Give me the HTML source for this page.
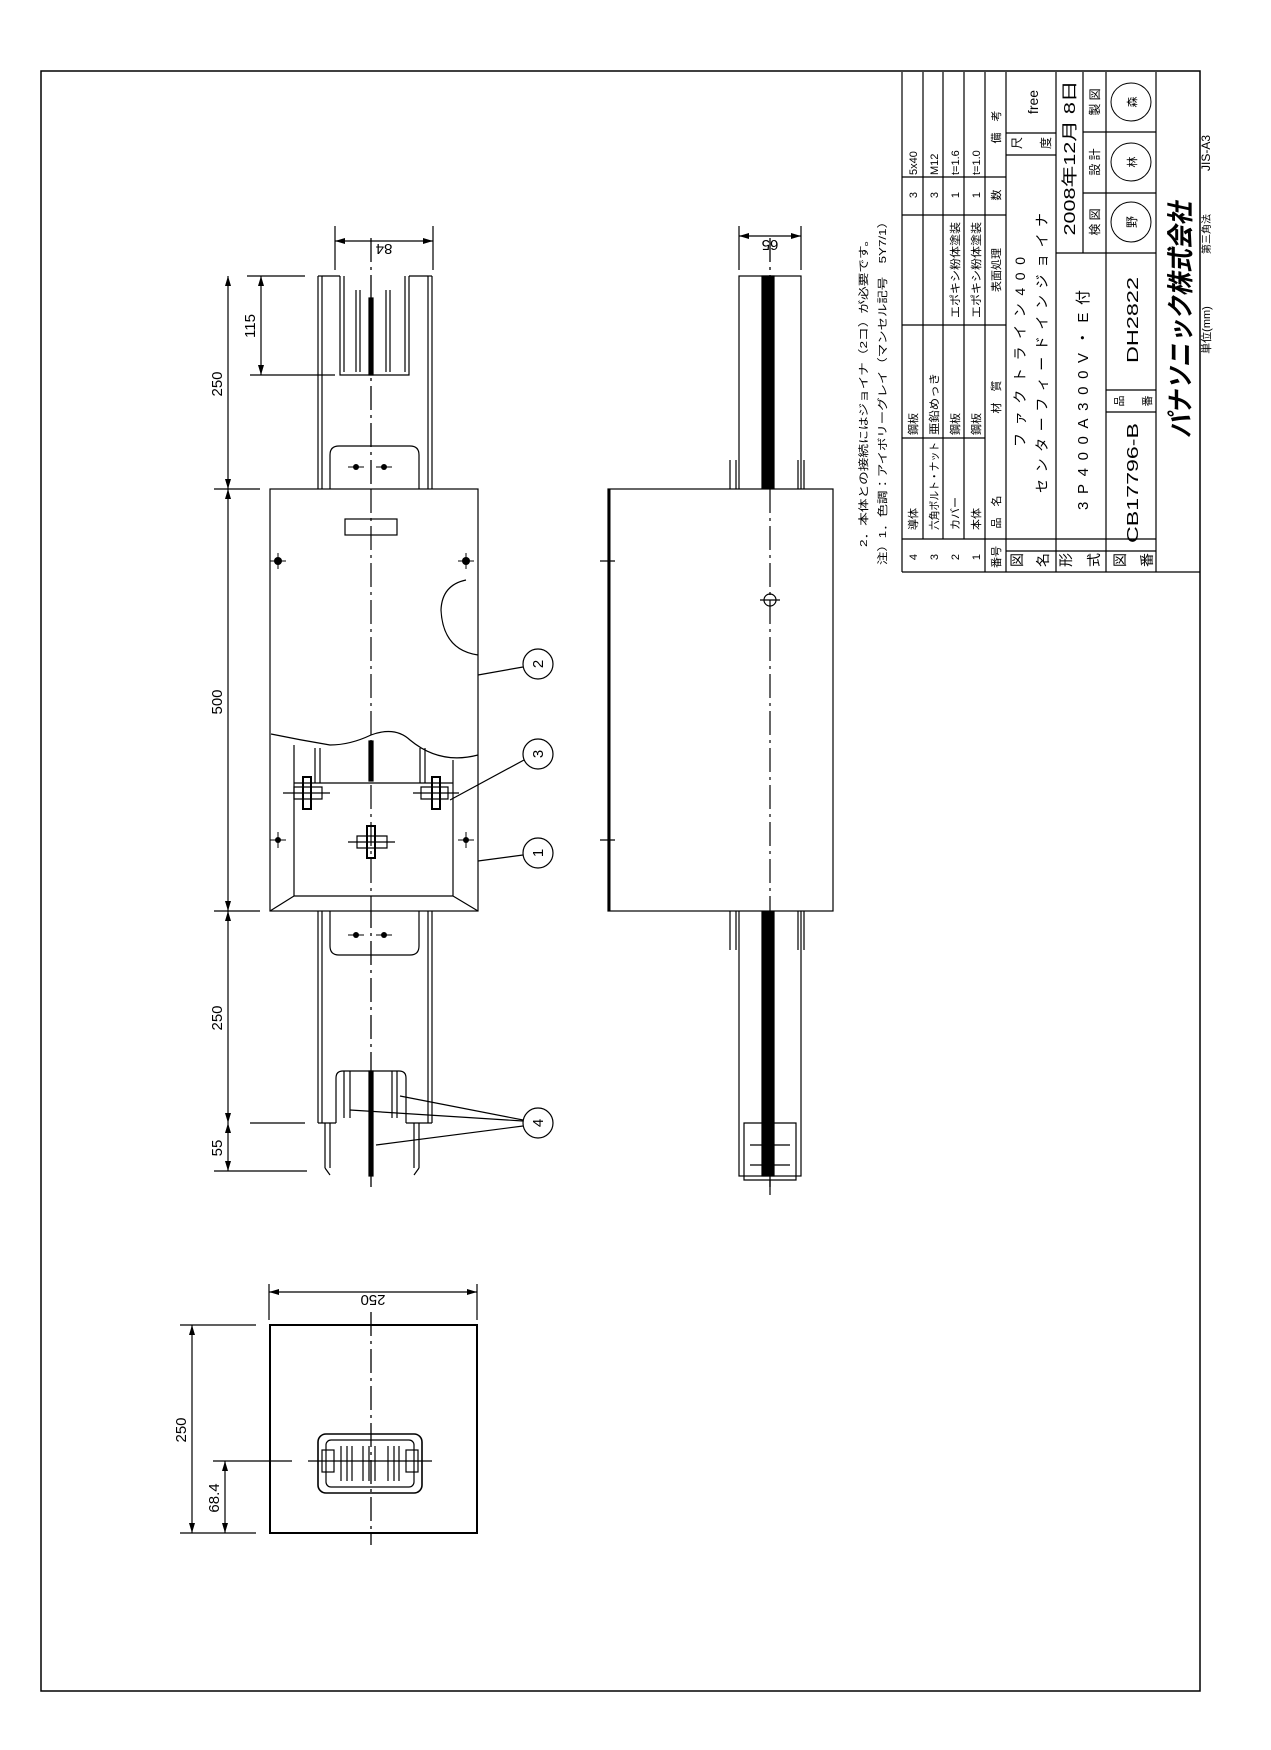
<!DOCTYPE html>
<html><head><meta charset="utf-8"><style>
html,body{margin:0;padding:0;background:#fff}
svg{display:block}
text{font-family:"Liberation Sans","Noto Sans CJK JP",sans-serif;fill:#000}
</style></head><body>
<svg width="1271" height="1750" viewBox="0 0 1271 1750" xmlns="http://www.w3.org/2000/svg">
<g fill="none" stroke="#000" stroke-width="1.2">
<rect x="41" y="71" width="1159" height="1620" stroke-width="1.5"/>

<line x1="902" y1="72" x2="902" y2="572"/>
<line x1="923" y1="72" x2="923" y2="539"/>
<line x1="943" y1="72" x2="943" y2="539"/>
<line x1="964" y1="72" x2="964" y2="539"/>
<line x1="985" y1="72" x2="985" y2="572"/>
<line x1="1006" y1="72" x2="1006" y2="572"/>
<line x1="1056" y1="72" x2="1056" y2="572"/>
<line x1="1106" y1="72" x2="1106" y2="572"/>
<line x1="1156" y1="72" x2="1156" y2="572"/>
<line x1="902" y1="572" x2="1200" y2="572"/>
<line x1="902" y1="177" x2="1006" y2="177"/>
<line x1="902" y1="215" x2="1006" y2="215"/>
<line x1="902" y1="325" x2="1006" y2="325"/>
<line x1="902" y1="438" x2="985" y2="438"/>
<line x1="902" y1="539" x2="1156" y2="539"/>
<line x1="1006" y1="551" x2="1156" y2="551"/>
<line x1="1006" y1="133" x2="1056" y2="133"/>
<line x1="1006" y1="155" x2="1056" y2="155"/>
<line x1="1056" y1="253" x2="1156" y2="253"/>
<line x1="1083" y1="72" x2="1083" y2="253"/>
<line x1="1083" y1="132" x2="1156" y2="132"/>
<line x1="1083" y1="193" x2="1156" y2="193"/>
<line x1="1106" y1="390" x2="1156" y2="390"/>
<line x1="1106" y1="412" x2="1156" y2="412"/>

<g stroke-dasharray="24,5,3,5" stroke-width="1.3">
<line x1="371" y1="238" x2="371" y2="1190"/>
<line x1="770" y1="238" x2="770" y2="1190"/>
<line x1="371" y1="1312" x2="371" y2="1545"/>
</g>

<!-- TOP VIEW channel -->
<line x1="318" y1="276" x2="318" y2="1123"/>
<line x1="322" y1="276" x2="322" y2="1123"/>
<line x1="428" y1="276" x2="428" y2="1123"/>
<line x1="432" y1="276" x2="432" y2="1123"/>
<line x1="318" y1="276" x2="322" y2="276"/>
<line x1="428" y1="276" x2="432" y2="276"/>
<line x1="318" y1="1123" x2="336" y2="1123"/>
<line x1="406" y1="1123" x2="432" y2="1123"/>
<path d="M340 276 V375 H409 V276 M344 276 V372 M405 276 V372 M322 276 H340 M409 276 H428"/>
<path d="M356 290 V372 M360 290 V372 M386 290 V372 M390 290 V372"/>
<rect x="369" y="298" width="4" height="77" fill="#000"/>
<line x1="247" y1="276" x2="305" y2="276"/>
<line x1="250" y1="375" x2="335" y2="375"/>
<path d="M330 489 V455 Q330 446 339 446 H410 Q419 446 419 455 V489"/>
<path d="M330 911 V946 Q330 955 339 955 H410 Q419 955 419 946 V911"/>
<rect x="270" y="489" width="208" height="422" fill="#fff"/>
<line x1="371" y1="489" x2="371" y2="911" stroke-dasharray="24,5,3,5"/>
<rect x="345" y="519" width="52" height="16"/>
<path d="M466 580 Q442 585 441 610 Q443 650 478 655"/>
<path d="M271 734 Q300 740 330 745 Q350 745 371 735 Q395 726 410 740 Q440 765 478 755"/>
<path d="M294 745 V896 M453 760 V896 M294 783 H453 M294 896 H453 M270 911 L294 896 M478 911 L453 896"/>
<path d="M315 748 V783 M320 748 V783 M420 748 V783 M425 748 V783"/>
<rect x="369" y="741" width="4" height="40" fill="#000"/>
<rect x="303" y="777" width="8" height="32" stroke-width="2"/>
<path d="M283 793 H330 M294 787 H322 V799 H294 Z"/>
<rect x="432" y="777" width="8" height="32" stroke-width="2"/>
<path d="M413 793 H459 M421 787 H448 V799 H421 Z"/>
<rect x="367" y="826" width="8" height="32" stroke-width="2"/>
<path d="M348 842 H395 M357 836 H387 V848 H357 Z"/>
<circle cx="538" cy="664" r="15"/><circle cx="538" cy="754" r="15"/><circle cx="538" cy="853" r="15"/><circle cx="538" cy="1123" r="15"/>
<line x1="523" y1="667" x2="478" y2="675"/>
<line x1="524" y1="760" x2="450" y2="800"/>
<line x1="523" y1="855" x2="478" y2="861"/>
<line x1="523" y1="1120" x2="400" y2="1096"/>
<line x1="523" y1="1121" x2="350" y2="1110"/>
<line x1="523" y1="1126" x2="376" y2="1145"/>
<!-- bottom slot -->
<path d="M336 1123 V1078 Q336 1071 343 1071 H399 Q406 1071 406 1078 V1123 M344 1071 V1118 M350 1071 V1118 M397 1071 V1118 M392 1071 V1118"/>
<rect x="369" y="1071" width="4" height="105" fill="#000"/>
<path d="M325 1123 V1168 M330 1123 V1168 M414 1123 V1168 M419 1123 V1168"/>
<path d="M325 1168 L330 1175 M419 1168 L414 1175"/>
<line x1="250" y1="1123" x2="305" y2="1123"/>
<line x1="214" y1="1171" x2="307" y2="1171"/>
<line x1="214" y1="489" x2="260" y2="489"/>
<line x1="214" y1="911" x2="260" y2="911"/>

<line x1="228" y1="276" x2="228" y2="1171"/>
<line x1="261" y1="276" x2="261" y2="375"/>
<line x1="335" y1="226" x2="335" y2="270"/>
<line x1="433" y1="226" x2="433" y2="270"/>
<line x1="335" y1="241" x2="433" y2="241"/>

<!-- SIDE VIEW -->
<rect x="739" y="276" width="62" height="900"/>
<rect x="762" y="276" width="12" height="900" fill="#000"/>
<path d="M730 460 V489 M736 460 V489 M804 460 V489 M798 460 V489"/>
<rect x="608" y="489" width="225" height="422" fill="#fff"/>
<line x1="609" y1="489" x2="609" y2="911" stroke-width="3"/>
<line x1="770" y1="489" x2="770" y2="911" stroke-dasharray="24,5,3,5"/>
<circle cx="770" cy="600" r="6"/><line x1="760" y1="600" x2="780" y2="600"/>
<path d="M600 561 H615 M600 840 H615"/>
<path d="M730 911 V950 M736 911 V950 M798 911 V950 M804 911 V950"/>
<path d="M744 1123 H796 V1180 H744 Z"/>
<path d="M750 1145 H790 M750 1165 H790 M770 1180 V1195"/>
<line x1="739" y1="226" x2="739" y2="270"/>
<line x1="801" y1="226" x2="801" y2="270"/>
<line x1="739" y1="236" x2="801" y2="236"/>

<!-- END VIEW -->
<line x1="269" y1="1284" x2="269" y2="1320"/>
<line x1="477" y1="1284" x2="477" y2="1320"/>
<line x1="269" y1="1292" x2="477" y2="1292"/>
<rect x="270" y="1325" width="207" height="208" stroke-width="2"/>
<line x1="180" y1="1325" x2="256" y2="1325"/>
<line x1="180" y1="1533" x2="256" y2="1533"/>
<line x1="192" y1="1325" x2="192" y2="1533"/>
<line x1="213" y1="1461" x2="292" y2="1461"/>
<line x1="225" y1="1461" x2="225" y2="1533"/>
<rect x="318" y="1434" width="104" height="59" rx="8" stroke-width="1.6"/>
<rect x="326" y="1440" width="88" height="47" rx="5"/>
<path d="M341 1446 V1481 M347 1446 V1481 M352 1446 V1481 M363 1446 V1481 M369 1446 V1481 M375 1446 V1481 M388 1446 V1481 M394 1446 V1481 M399 1446 V1481"/>
<path d="M308 1461 H432"/>
<rect x="322" y="1450" width="12" height="22"/><rect x="406" y="1450" width="12" height="22"/>
</g>

<g fill="#000">
<path d="M228 276 l-3 10 h6z M228 489 l-3 -10 h6z M228 489 l-3 10 h6z M228 911 l-3 -10 h6z M228 911 l-3 10 h6z M228 1123 l-3 -10 h6z M228 1123 l-3 10 h6z M228 1171 l-3 -10 h6z"/>
<path d="M261 276 l-3 10 h6z M261 375 l-3 -10 h6z"/>
<path d="M335 241 l10 -3 v6z M433 241 l-10 -3 v6z M739 236 l10 -3 v6z M801 236 l-10 -3 v6z"/>
<path d="M269 1292 l10 -3 v6z M477 1292 l-10 -3 v6z"/>
<path d="M192 1325 l-3 10 h6z M192 1533 l-3 -10 h6z M225 1461 l-3 10 h6z M225 1533 l-3 -10 h6z"/>
<circle cx="278" cy="561" r="4"/><circle cx="466" cy="561" r="4"/><circle cx="278" cy="840" r="3"/><circle cx="466" cy="840" r="3"/>
<circle cx="356" cy="467" r="3"/><circle cx="384" cy="467" r="3"/><circle cx="356" cy="935" r="3"/><circle cx="384" cy="935" r="3"/>
</g>
<g stroke="#000" stroke-width="1">
<path d="M270 561 h16 M278 553 v16 M458 561 h16 M466 553 v16 M270 840 h16 M278 832 v16 M458 840 h16 M466 832 v16 M348 467 h16 M376 467 h16 M348 935 h16 M376 935 h16"/>
</g>

<g font-size="15">
<text transform="translate(222,384) rotate(-90)" text-anchor="middle">250</text>
<text transform="translate(222,702) rotate(-90)" text-anchor="middle">500</text>
<text transform="translate(222,1018) rotate(-90)" text-anchor="middle">250</text>
<text transform="translate(222,1148) rotate(-90)" text-anchor="middle">55</text>
<text transform="translate(255,326) rotate(-90)" text-anchor="middle">115</text>
<text transform="translate(384,244) rotate(180)" text-anchor="middle">84</text>
<text transform="translate(770,240) rotate(180)" text-anchor="middle">65</text>
<text transform="translate(373,1295) rotate(180)" text-anchor="middle">250</text>
<text transform="translate(186,1430) rotate(-90)" text-anchor="middle">250</text>
<text transform="translate(219,1498) rotate(-90)" text-anchor="middle">68.4</text>
<text transform="translate(543,664) rotate(-90)" text-anchor="middle">2</text>
<text transform="translate(543,754) rotate(-90)" text-anchor="middle">3</text>
<text transform="translate(543,853) rotate(-90)" text-anchor="middle">1</text>
<text transform="translate(543,1123) rotate(-90)" text-anchor="middle">4</text>
</g>

<g font-size="10.5">
<text transform="translate(867,547) rotate(-90)" textLength="314" lengthAdjust="spacingAndGlyphs">2．本体との接続にはジョイナ（2コ）が必要です。</text>
<text transform="translate(886,565) rotate(-90)" textLength="350" lengthAdjust="spacingAndGlyphs">注）1．色調：アイボリーグレイ（マンセル記号　5Y7/1）</text>
<g font-size="11">
<text transform="translate(917,557) rotate(-90)" text-anchor="middle">4</text>
<text transform="translate(917,530) rotate(-90)">導体</text>
<text transform="translate(917,435) rotate(-90)">鋼板</text>
<text transform="translate(917,195) rotate(-90)" text-anchor="middle">3</text>
<text transform="translate(917,175) rotate(-90)">5x40</text>
<text transform="translate(938,557) rotate(-90)" text-anchor="middle">3</text>
<text transform="translate(938,530) rotate(-90)" textLength="88" lengthAdjust="spacingAndGlyphs">六角ボルト・ナット</text>
<text transform="translate(938,435) rotate(-90)" textLength="62" lengthAdjust="spacingAndGlyphs">亜鉛めっき</text>
<text transform="translate(938,195) rotate(-90)" text-anchor="middle">3</text>
<text transform="translate(938,175) rotate(-90)">M12</text>
<text transform="translate(959,557) rotate(-90)" text-anchor="middle">2</text>
<text transform="translate(959,530) rotate(-90)">カバー</text>
<text transform="translate(959,435) rotate(-90)">鋼板</text>
<text transform="translate(959,270) rotate(-90)" text-anchor="middle" textLength="96" lengthAdjust="spacingAndGlyphs">エポキシ粉体塗装</text>
<text transform="translate(959,195) rotate(-90)" text-anchor="middle">1</text>
<text transform="translate(959,175) rotate(-90)">t=1.6</text>
<text transform="translate(980,557) rotate(-90)" text-anchor="middle">1</text>
<text transform="translate(980,530) rotate(-90)">本体</text>
<text transform="translate(980,435) rotate(-90)">鋼板</text>
<text transform="translate(980,270) rotate(-90)" text-anchor="middle" textLength="96" lengthAdjust="spacingAndGlyphs">エポキシ粉体塗装</text>
<text transform="translate(980,195) rotate(-90)" text-anchor="middle">1</text>
<text transform="translate(980,175) rotate(-90)">t=1.0</text>
<text transform="translate(1000,557) rotate(-90)" text-anchor="middle">番号</text>
<text transform="translate(1000,512) rotate(-90)" text-anchor="middle">品　名</text>
<text transform="translate(1000,397) rotate(-90)" text-anchor="middle">材　質</text>
<text transform="translate(1000,270) rotate(-90)" text-anchor="middle">表面処理</text>
<text transform="translate(1000,195) rotate(-90)" text-anchor="middle">数</text>
<text transform="translate(1000,127) rotate(-90)" text-anchor="middle">備　考</text>
</g>
<g font-size="14">
<text transform="translate(1022,560) rotate(-90)" text-anchor="middle">図</text>
<text transform="translate(1048,560) rotate(-90)" text-anchor="middle">名</text>
<text transform="translate(1071,560) rotate(-90)" text-anchor="middle">形</text>
<text transform="translate(1099,560) rotate(-90)" text-anchor="middle">式</text>
<text transform="translate(1125,560) rotate(-90)" text-anchor="middle">図</text>
<text transform="translate(1152,560) rotate(-90)" text-anchor="middle">番</text>
<text transform="translate(1025,352) rotate(-90)" text-anchor="middle" textLength="190" lengthAdjust="spacing">ファクトライン400</text>
<text transform="translate(1047,353) rotate(-90)" text-anchor="middle" textLength="280" lengthAdjust="spacing">センターフィードインジョイナ</text>
<text transform="translate(1088,400) rotate(-90)" text-anchor="middle" textLength="220" lengthAdjust="spacing" font-size="15">3P400A300V・E付</text>
<text transform="translate(1138,483) rotate(-90)" text-anchor="middle" textLength="120" lengthAdjust="spacingAndGlyphs" font-size="16">CB17796-B</text>
<text transform="translate(1138,320) rotate(-90)" text-anchor="middle" textLength="86" lengthAdjust="spacingAndGlyphs" font-size="16">DH2822</text>
<text transform="translate(1123,401) rotate(-90)" text-anchor="middle" font-size="11">品</text>
<text transform="translate(1151,401) rotate(-90)" text-anchor="middle" font-size="11">番</text>
<text transform="translate(1038,102) rotate(-90)" text-anchor="middle">free</text>
<text transform="translate(1021,143) rotate(-90)" text-anchor="middle" font-size="12">尺</text>
<text transform="translate(1050,143) rotate(-90)" text-anchor="middle" font-size="12">度</text>
<text transform="translate(1075,158) rotate(-90)" text-anchor="middle" textLength="155" lengthAdjust="spacingAndGlyphs" font-size="16">2008年12月 8日</text>
<text transform="translate(1099,222) rotate(-90)" text-anchor="middle" font-size="12">検 図</text>
<text transform="translate(1099,162) rotate(-90)" text-anchor="middle" font-size="12">設 計</text>
<text transform="translate(1099,102) rotate(-90)" text-anchor="middle" font-size="12">製 図</text>
</g>
<g fill="none" stroke="#000" stroke-width="1">
<ellipse cx="1131" cy="222" rx="20" ry="20"/>
<ellipse cx="1131" cy="162" rx="20" ry="19"/>
<ellipse cx="1131" cy="102" rx="20" ry="19"/>
</g>
<text transform="translate(1136,222) rotate(-90)" text-anchor="middle" font-size="12">野</text>
<text transform="translate(1136,162) rotate(-90)" text-anchor="middle" font-size="11">林</text>
<text transform="translate(1136,102) rotate(-90)" text-anchor="middle" font-size="11">森</text>
<text transform="translate(1190,320) rotate(-90)" text-anchor="middle" font-size="27" font-weight="bold" font-style="italic" textLength="236" lengthAdjust="spacingAndGlyphs">パナソニック株式会社</text>
<text transform="translate(1210,330) rotate(-90)" text-anchor="middle" font-size="11">単位(mm)</text>
<text transform="translate(1210,234) rotate(-90)" text-anchor="middle" font-size="10">第三角法</text>
<text transform="translate(1210,153) rotate(-90)" text-anchor="middle" font-size="12">JIS-A3</text>
</g>
</svg>
</body></html>
